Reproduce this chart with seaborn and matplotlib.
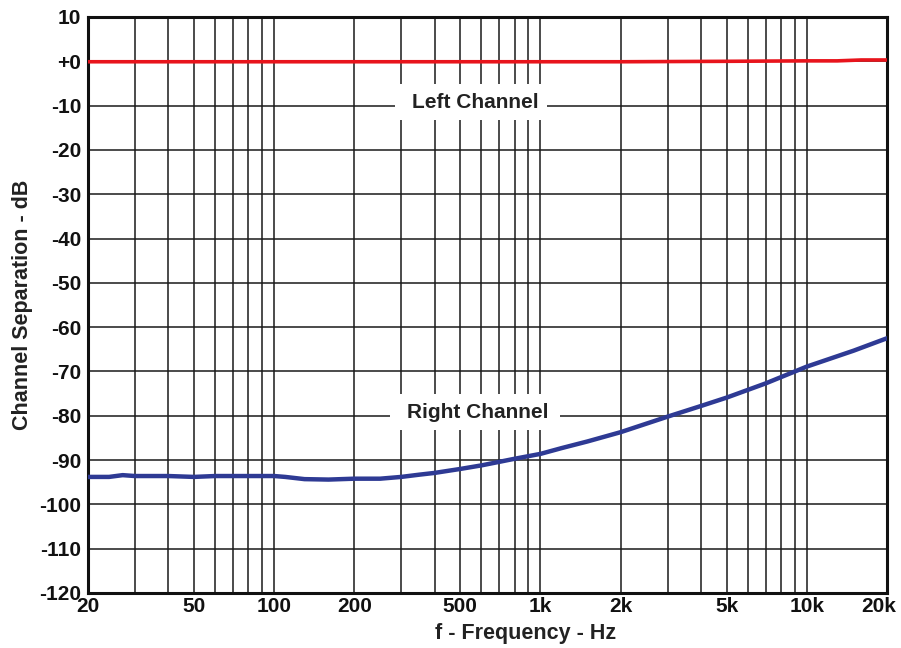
import numpy as np
import pandas as pd
import matplotlib
matplotlib.use("Agg")
import matplotlib.pyplot as plt
from matplotlib.patches import Rectangle
from matplotlib.transforms import ScaledTranslation
import seaborn as sns
from matplotlib.ticker import FixedLocator, NullFormatter

# Channel separation vs. frequency
freq_left = [20, 50, 100, 200, 500, 1000, 2000, 5000, 10000, 13000, 16000, 20000]
sep_left = [-0.1, -0.1, -0.1, -0.1, -0.1, -0.1, -0.1, 0.0, 0.1, 0.1, 0.3, 0.3]

freq_right = [20, 24, 27, 30, 40, 50, 60, 80, 100, 110, 130, 160, 200, 250, 300, 350,
              400, 500, 600, 700, 800, 1000, 1200, 1500, 2000, 3000, 4000, 5000,
              7000, 10000, 15000, 20000]
sep_right = [-93.8, -93.8, -93.4, -93.6, -93.6, -93.8, -93.6, -93.6, -93.6, -93.8,
             -94.3, -94.4, -94.2, -94.2, -93.8, -93.3, -92.9, -92.0, -91.2, -90.4,
             -89.7, -88.6, -87.3, -85.8, -83.7, -80.2, -77.8, -75.9, -72.7, -68.9,
             -65.3, -62.5]

x_ticks = [20, 50, 100, 200, 500, 1000, 2000, 5000, 10000, 20000]
x_tick_labels = ["20", "50", "100", "200", "500", "1k", "2k", "5k", "10k", "20k"]
x_grid = [20, 30, 40, 50, 60, 70, 80, 90, 100, 200, 300, 400, 500, 600, 700, 800, 900,
          1000, 2000, 3000, 4000, 5000, 6000, 7000, 8000, 9000, 10000, 20000]
y_ticks = list(range(-120, 11, 10))
y_tick_labels = [("+0" if v == 0 else str(v)) for v in y_ticks]

sns.set_theme(style="white")
plt.rcParams["font.family"] = ["Liberation Sans", "DejaVu Sans"]
plt.rcParams["font.weight"] = "bold"

FS = 15
TXT = "#222222"

fig = plt.figure(figsize=(9.01, 6.48), dpi=100)
ax = fig.add_axes([88 / 901, 1 - 593 / 648, (887 - 88) / 901, (593 - 17) / 648])

left_df = pd.DataFrame({"f": freq_left, "dB": sep_left})
right_df = pd.DataFrame({"f": freq_right, "dB": sep_right})

sns.lineplot(data=left_df, x="f", y="dB", ax=ax, color="#e8141c", linewidth=2.6,
             zorder=3)
sns.lineplot(data=right_df, x="f", y="dB", ax=ax, color="#2e3a94", linewidth=3.2,
             zorder=3)

ax.set_xscale("log")
ax.set_xlim(20, 20000)
ax.set_ylim(-120, 10)

ax.xaxis.set_major_locator(FixedLocator(x_ticks))
ax.xaxis.set_minor_locator(FixedLocator(x_grid))
ax.xaxis.set_minor_formatter(NullFormatter())
ax.set_xticks(x_ticks)
ax.set_xticklabels(x_tick_labels)
ax.set_yticks(y_ticks)
ax.set_yticklabels(y_tick_labels)

ax.grid(which="both", axis="x", color="#1a1a1a", linewidth=1.1, zorder=1)
ax.grid(which="major", axis="y", color="#1a1a1a", linewidth=1.1, zorder=1)
ax.set_axisbelow(True)

ax.tick_params(axis="both", which="both", length=0, labelsize=FS, colors="#111111")
ax.tick_params(axis="x", pad=3)
ax.tick_params(axis="y", pad=5)
for lab in ax.get_xticklabels() + ax.get_yticklabels():
    lab.set_fontweight("bold")

# keep the last frequency label inside the figure
last = ax.get_xticklabels()[-1]
last.set_transform(last.get_transform()
                   + ScaledTranslation(-8 / 100, 0, fig.dpi_scale_trans))

for sp in ax.spines.values():
    sp.set_color("#111111")
    sp.set_linewidth(2.2)

ax.set_xlabel("")
ax.set_ylabel("Channel Separation - dB", fontsize=FS + 0.5, fontweight="bold",
              color=TXT, labelpad=4)
fig.text(526 / 901, 1 - 633 / 648, "f - Frequency - Hz", ha="center", va="center",
         fontsize=FS + 0.5, fontweight="bold", color=TXT)

# white label boxes that break the grid around the curve names
for (x0, x1, y0, y1) in [(284, 1058, -13.3, -5.1), (272, 1184, -83.2, -75.0)]:
    ax.add_patch(Rectangle((x0, y0), x1 - x0, y1 - y0, facecolor="white",
                           edgecolor="none", zorder=2))

ax.text(1000 * 10 ** (-0.245), -9.4, "Left Channel", ha="center", va="center",
        fontsize=FS, fontweight="bold", color=TXT, zorder=4)
ax.text(1000 * 10 ** (-0.237), -79.2, "Right Channel", ha="center", va="center",
        fontsize=FS, fontweight="bold", color=TXT, zorder=4)

fig.savefig("out.png", dpi=100, facecolor="white")
